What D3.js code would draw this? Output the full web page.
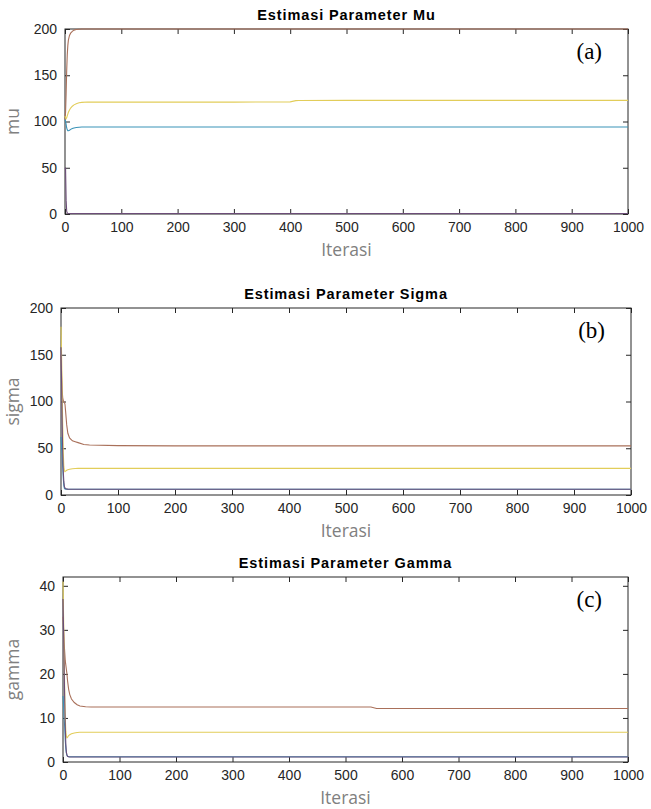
<!DOCTYPE html>
<html>
<head>
<meta charset="utf-8">
<script src="https://cdn.jsdelivr.net/npm/d3@7"></script>
<style>
  body { margin: 0; background: #fff; }
  .tick text { font-family: "Liberation Sans", Arial, sans-serif; font-size: 14px; fill: #262626; }
  .tick line { stroke: #262626; }
  .axlabel { font-family: "Open Sans", sans-serif; font-size: 17.5px; fill: #808080; }
  .title { font-family: "Liberation Sans", Arial, sans-serif; font-size: 14.5px; font-weight: bold; fill: #000; letter-spacing: 0.9px; }
  .tag { font-family: "Liberation Serif", "Times New Roman", serif; font-size: 23px; fill: #000; }
</style>
</head>
<body>
<div id="chart"></div>
<script>
// three matlab-style panels: parameter estimates over iterations

// x tick labels shared by all panels
var xTicks = [0, 100, 200, 300, 400, 500, 600, 700, 800, 900, 1000];

// panel (a) mu
var iterMu = [0, 1, 2, 3, 4, 5, 6, 8, 10, 13, 16, 20, 25, 30, 40, 50, 100, 200, 300, 400, 410, 415, 500, 600, 700, 800, 900, 1000];
var muBlue = [102, 100, 97, 93, 91, 90, 90, 90.5, 91.5, 92.5, 93, 93.5, 93.8, 94, 94, 94, 94, 94, 94, 94, 94, 94, 94, 94, 94, 94, 94, 94];
var muOrange = [102, 110, 130, 155, 172, 182, 188, 193, 195.5, 197.5, 198.8, 199.5, 199.8, 200, 200, 200, 200, 200, 200, 200, 200, 200, 200, 200, 200, 200, 200, 200];
var muYellow = [106, 104, 103, 104, 106, 108, 110, 112.5, 114.5, 116.5, 118, 119.3, 120.2, 120.7, 121, 121, 121, 121, 121, 121.2, 122.6, 122.7, 122.8, 122.8, 122.8, 122.8, 122.8, 122.8];
var muPurple = [50, 49, 15, 3, 1.2, 0.8, 0.6, 0.5, 0.5, 0.5, 0.5, 0.5, 0.5, 0.5, 0.5, 0.5, 0.5, 0.5, 0.5, 0.5, 0.5, 0.5, 0.5, 0.5, 0.5, 0.5, 0.5, 0.5];
var muTicks = [0, 50, 100, 150, 200];

// panel (b) sigma
var iterSigma = [0, 1, 2, 3, 4, 5, 6, 7, 8, 10, 12, 15, 20, 25, 30, 40, 50, 100, 200, 300, 400, 500, 600, 700, 800, 900, 1000];
var sigmaBlue = [62, 52, 42, 30, 18, 10, 7, 6.3, 6.2, 6.2, 6.2, 6.2, 6.2, 6.2, 6.2, 6.2, 6.2, 6.2, 6.2, 6.2, 6.2, 6.2, 6.2, 6.2, 6.2, 6.2, 6.2];
var sigmaOrange = [150, 130, 112, 104, 101, 100, 99, 97, 90, 75, 66, 61, 58, 57, 56, 54, 53.5, 52.8, 52.5, 52.5, 52.5, 52.5, 52.5, 52.5, 52.5, 52.5, 52.5];
var sigmaYellow = [180, 150, 110, 75, 45, 30, 26, 25, 25.5, 26.5, 27, 27.5, 28, 28.3, 28.5, 28.5, 28.5, 28.5, 28.5, 28.5, 28.5, 28.5, 28.5, 28.5, 28.5, 28.5, 28.5];
var sigmaPurple = [158, 120, 80, 45, 25, 14, 9, 7.5, 7, 6.5, 6.3, 6.2, 6.2, 6.2, 6.2, 6.2, 6.2, 6.2, 6.2, 6.2, 6.2, 6.2, 6.2, 6.2, 6.2, 6.2, 6.2];
var sigmaTicks = [0, 50, 100, 150, 200];

// panel (c) gamma
var iterGamma = [0, 1, 2, 3, 4, 5, 6, 7, 8, 10, 12, 15, 20, 25, 30, 40, 50, 100, 200, 300, 400, 500, 545, 555, 600, 700, 800, 900, 1000];
var gammaBlue = [15, 13, 10, 8, 5, 3, 2, 1.5, 1.3, 1.2, 1.2, 1.2, 1.2, 1.2, 1.2, 1.2, 1.2, 1.2, 1.2, 1.2, 1.2, 1.2, 1.2, 1.2, 1.2, 1.2, 1.2, 1.2, 1.2];
var gammaOrange = [33, 30, 27, 25, 23, 22, 21, 20, 18.5, 16.5, 15.3, 14.3, 13.5, 13, 12.7, 12.55, 12.5, 12.5, 12.5, 12.5, 12.5, 12.5, 12.5, 12.15, 12.15, 12.15, 12.15, 12.15, 12.15];
var gammaYellow = [41, 33, 24, 16, 10, 7, 5.8, 5.5, 5.6, 6, 6.2, 6.4, 6.6, 6.7, 6.75, 6.75, 6.75, 6.75, 6.75, 6.75, 6.75, 6.75, 6.75, 6.75, 6.75, 6.75, 6.75, 6.75, 6.75];
var gammaPurple = [37, 30, 22, 14, 8, 4, 2.2, 1.6, 1.3, 1.2, 1.15, 1.15, 1.15, 1.15, 1.15, 1.15, 1.15, 1.15, 1.15, 1.15, 1.15, 1.15, 1.15, 1.15, 1.15, 1.15, 1.15, 1.15, 1.15];
var gammaTicks = [0, 10, 20, 30, 40];

// line colours (matlab defaults, a bit washed out like the jpeg)
var colors = { blue: "#3a93b8", orange: "#a9705a", yellow: "#e2cd5a", purple: "#6c4d78" };

var svg = d3.select("#chart").append("svg")
  .attr("width", 651)
  .attr("height", 809);

var panels = [
  { title: "Estimasi Parameter Mu", ylabel: "mu", tag: "(a)",
    left: 65, right: 628, top: 29, bottom: 214, ymax: 200, yTicks: muTicks,
    iter: iterMu, series: [[muBlue, "blue"], [muOrange, "orange"], [muYellow, "yellow"], [muPurple, "purple"]] },
  { title: "Estimasi Parameter Sigma", ylabel: "sigma", tag: "(b)",
    left: 61, right: 631, top: 308, bottom: 495, ymax: 200, yTicks: sigmaTicks,
    iter: iterSigma, series: [[sigmaBlue, "blue"], [sigmaOrange, "orange"], [sigmaYellow, "yellow"], [sigmaPurple, "purple"]] },
  { title: "Estimasi Parameter Gamma", ylabel: "gamma", tag: "(c)",
    left: 63, right: 628, top: 577, bottom: 762, ymax: 42, yTicks: gammaTicks,
    iter: iterGamma, series: [[gammaBlue, "blue"], [gammaOrange, "orange"], [gammaYellow, "yellow"], [gammaPurple, "purple"]] }
];

panels.forEach(function(p) {
  var x = d3.scaleLinear().domain([0, 1000]).range([p.left, p.right]);
  var y = d3.scaleLinear().domain([0, p.ymax]).range([p.bottom, p.top]);
  var g = svg.append("g");

  // the box
  g.append("rect")
    .attr("x", p.left)
    .attr("y", p.top)
    .attr("width", p.right - p.left)
    .attr("height", p.bottom - p.top)
    .attr("fill", "none")
    .attr("stroke", "#262626")
    .attr("stroke-width", 1);

  // bottom axis with labels, ticks inward
  g.append("g")
    .attr("transform", `translate(0, ${p.bottom})`)
    .call(d3.axisBottom(x).tickValues(xTicks).tickSizeInner(-5).tickSizeOuter(0).tickPadding(8).tickFormat(d3.format("d")))
    .call(function(a) { a.select(".domain").remove(); });

  // top axis, ticks only
  g.append("g")
    .attr("transform", `translate(0, ${p.top})`)
    .call(d3.axisTop(x).tickValues(xTicks).tickSizeInner(-5).tickSizeOuter(0).tickFormat(""))
    .call(function(a) { a.select(".domain").remove(); });

  // left axis with labels
  g.append("g")
    .attr("transform", `translate(${p.left}, 0)`)
    .call(d3.axisLeft(y).tickValues(p.yTicks).tickSizeInner(-5).tickSizeOuter(0).tickPadding(8))
    .call(function(a) { a.select(".domain").remove(); });

  // right axis, ticks only
  g.append("g")
    .attr("transform", `translate(${p.right}, 0)`)
    .call(d3.axisRight(y).tickValues(p.yTicks).tickSizeInner(-5).tickSizeOuter(0).tickFormat(""))
    .call(function(a) { a.select(".domain").remove(); });

  // lines drawn over the box (the mu=200 line covers the top edge in the original)
  var line = d3.line()
    .x(function(d) { return x(d[0]); })
    .y(function(d) { return y(d[1]); });

  p.series.forEach(function(s) {
    var pts = p.iter.map(function(it, i) { return [it, s[0][i]]; });
    g.append("path")
      .datum(pts)
      .attr("fill", "none")
      .attr("stroke", colors[s[1]])
      .attr("stroke-width", 1.1)
      .attr("d", line);
  });

  g.append("text")
    .attr("class", "title")
    .attr("x", (p.left + p.right) / 2)
    .attr("y", p.top - 9)
    .attr("text-anchor", "middle")
    .text(p.title);

  g.append("text")
    .attr("class", "axlabel")
    .attr("x", (p.left + p.right) / 2)
    .attr("y", p.bottom + 42)
    .attr("text-anchor", "middle")
    .text("Iterasi");

  g.append("text")
    .attr("class", "axlabel")
    .attr("transform", `translate(19, ${(p.top + p.bottom) / 2}) rotate(-90)`)
    .attr("text-anchor", "middle")
    .text(p.ylabel);

  g.append("text")
    .attr("class", "tag")
    .attr("x", p.right - 26)
    .attr("y", p.top + 30)
    .attr("text-anchor", "end")
    .text(p.tag);
});
</script>
</body>
</html>
